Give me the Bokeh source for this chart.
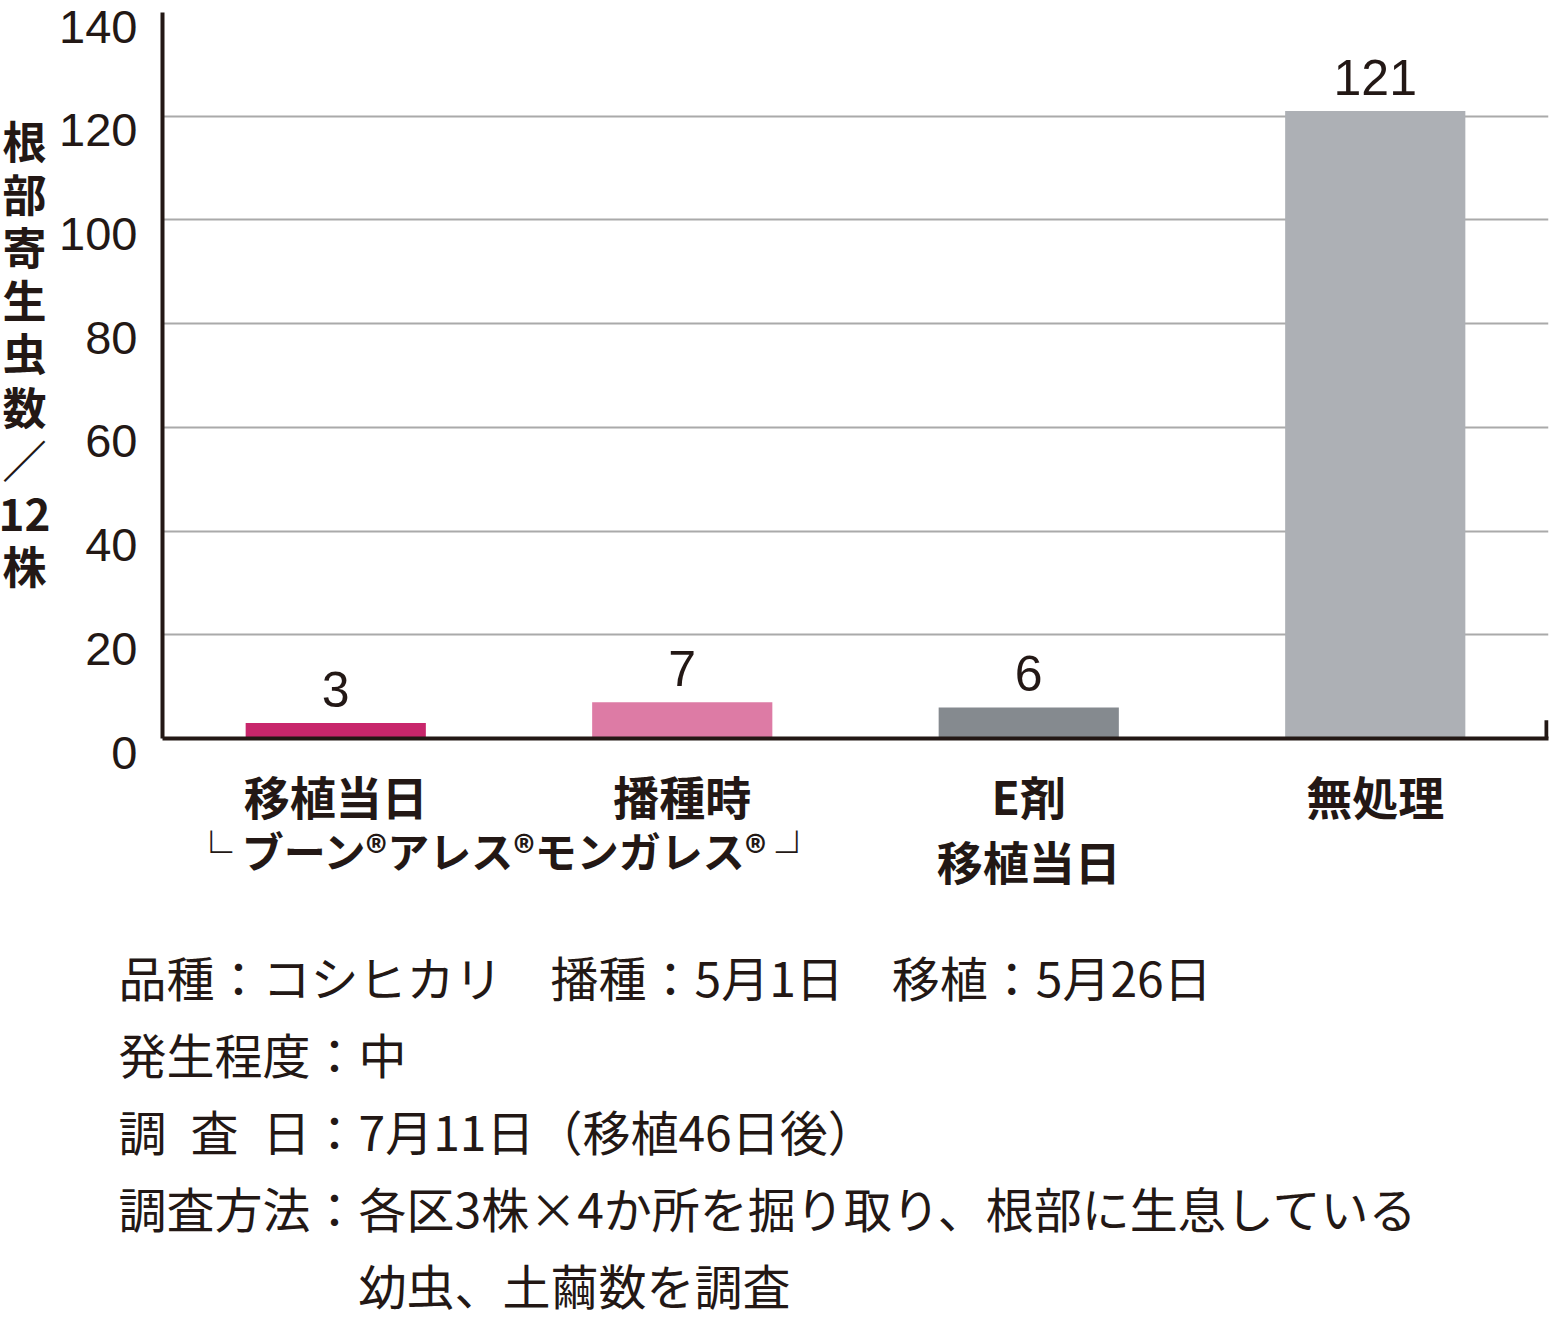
from bokeh.plotting import figure
from bokeh.layouts import row, column
from bokeh.models import (FactorRange, Range1d, FixedTicker, Label, LabelSet, BoxAnnotation,
                          ColumnDataSource)
from bokeh.core.properties import value
from bokeh.embed import file_html
from bokeh.resources import INLINE

# ---- data ----
categories = ["移植当日", "播種時", "E剤\n移植当日", "無処理"]
counts = [3, 7, 6, 121]
bar_colors = ["#C8266B", "#DD7BA5", "#858A8F", "#ADB0B5"]
y_ticks = [0, 20, 40, 60, 80, 100, 120, 140]
y_label_chars = ["根", "部", "寄", "生", "虫", "数", "／", "12", "株"]
bracket_text = "└ ブーン®アレス®モンガレス® ┘"
notes = [
    "品種：コシヒカリ　播種：5月1日　移植：5月26日",
    "発生程度：中",
    "調\u2002査\u2002日：7月11日（移植46日後）",
    "調査方法：各区3株×4か所を掘り取り、根部に生息している",
    "　　　　　幼虫、土繭数を調査",
]

# ---- layout constants (px) ----
W, H = 1560, 1321
FL, FR, FT, FB = 162, 1548, 12, 738     # plot frame edges on the page
MAIN_H = FB + 4                          # height of the chart itself
ROW_H = 905                              # chart + category label band
LEFT_W = FL - 6                          # width of left label strip
INK = "#231815"
JP = "Noto Sans CJK JP"
NUM = "Liberation Sans"
YMAX = 140
k = YMAX / (FB - FT)                     # data units per px
n = len(categories)
fw = FR - FL

def strip(width, height, xr, yr):
    f = figure(width=width, height=height, x_range=xr, y_range=yr, output_backend="svg",
               toolbar_location=None, min_border=0, x_axis_location=None,
               y_axis_location=None, frame_align=False)
    f.outline_line_color = None
    f.grid.visible = False
    return f

# ---------------- main chart ----------------
p = figure(width=W - LEFT_W, height=MAIN_H, x_range=FactorRange(*categories, range_padding=0),
           y_range=Range1d(0, YMAX), output_backend="svg", toolbar_location=None,
           min_border_left=FL - LEFT_W, min_border_right=W - FR, min_border_top=FT,
           min_border_bottom=MAIN_H - FB, frame_align=False)
p.outline_line_color = None
p.background_fill_color = "white"
p.border_fill_color = "white"

src = ColumnDataSource(dict(cat=categories, n=counts, color=bar_colors,
                            lab=[str(c) for c in counts]))
p.vbar(x="cat", top="n", width=0.52, color="color", line_color=None, source=src)
p.add_layout(LabelSet(x="cat", y="n", text="lab", source=src, y_offset=16,
                      text_font=value(NUM), text_font_size="50px", text_color=INK,
                      text_align="center", text_baseline="alphabetic"))

# axes: lines only (tick labels are drawn in the side strips)
for ax in (p.yaxis, p.xaxis):
    ax.ticker = FixedTicker(ticks=[])
    ax.major_tick_out = 0
    ax.major_tick_in = 0
    ax.major_label_standoff = 0
    ax.axis_line_width = 4
    ax.axis_line_color = INK

p.ygrid.ticker = FixedTicker(ticks=y_ticks[1:])
p.ygrid.grid_line_color = "#AAAAAA"
p.ygrid.grid_line_width = 2
p.xgrid.grid_line_color = None

p.add_layout(BoxAnnotation(left=fw - 4, right=fw, left_units="screen", right_units="screen",
                           bottom=0, top=3.5, fill_color=INK, fill_alpha=1, line_color=None))

# ---------------- left strip: y tick labels and stacked title ----------------
left = strip(LEFT_W, ROW_H, Range1d(0, LEFT_W),
             Range1d(-(ROW_H - FB) * k, YMAX + FT * k))
tsrc = ColumnDataSource(dict(x=[FL - 25] * len(y_ticks), y=y_ticks,
                             t=[str(v) for v in y_ticks]))
left.add_layout(LabelSet(x="x", y="y", text="t", source=tsrc, y_offset=-14,
                         text_font=value(NUM), text_font_size="47px", text_color=INK,
                         text_align="right", text_baseline="middle"))
left.add_layout(Label(x=24, y=ROW_H - 355 + 3, y_units="screen",
                      text="\n".join(y_label_chars), text_font=JP, text_font_style="bold",
                      text_font_size="44px", text_color=INK, text_align="center",
                      text_baseline="middle", text_line_height=0.83))

# ---------------- category band under the chart ----------------
MID_H = ROW_H - MAIN_H
mid = strip(W - LEFT_W, MID_H,
            Range1d(-(FL - LEFT_W) / fw * n, n + (W - FR) / fw * n), Range1d(0, MID_H))

def ym(page_y):
    return ROW_H - page_y + 3

first_lines = [c.split("\n")[0] for c in categories]
second_lines = [c.split("\n")[1] if "\n" in c else "" for c in categories]
xs = [i + 0.5 for i in range(n)]
mid.text(x=xs, y=[ym(797)] * n, text=first_lines, text_font=value(JP),
         text_font_style="bold", text_font_size="46px", text_color=INK,
         text_align="center", text_baseline="middle")
sx = [x for x, s in zip(xs, second_lines) if s]
st = [s for s in second_lines if s]
mid.text(x=sx, y=[ym(862)] * len(st), text=st, text_font=value(JP),
         text_font_style="bold", text_font_size="46px", text_color=INK,
         text_align="center", text_baseline="middle")
mid.add_layout(Label(x=1.0, y=ym(852), x_offset=-4, text=bracket_text, text_font=JP,
                     text_font_style="bold", text_font_size="42px", text_color=INK,
                     text_align="center", text_baseline="middle"))

# ---------------- notes ----------------
BH = H - ROW_H
bottom = strip(W, BH, Range1d(0, W), Range1d(0, BH))
for i, line in enumerate(notes):
    bottom.add_layout(Label(x=118, y=H - (978 + 77 * i) + 3,
                            text=line, text_font=JP, text_font_size="48px",
                            text_color=INK, text_align="left", text_baseline="middle"))

layout = column(row(left, column(p, mid, spacing=0), spacing=0), bottom, spacing=0)
open("out.html", "w").write(file_html(layout, INLINE))
